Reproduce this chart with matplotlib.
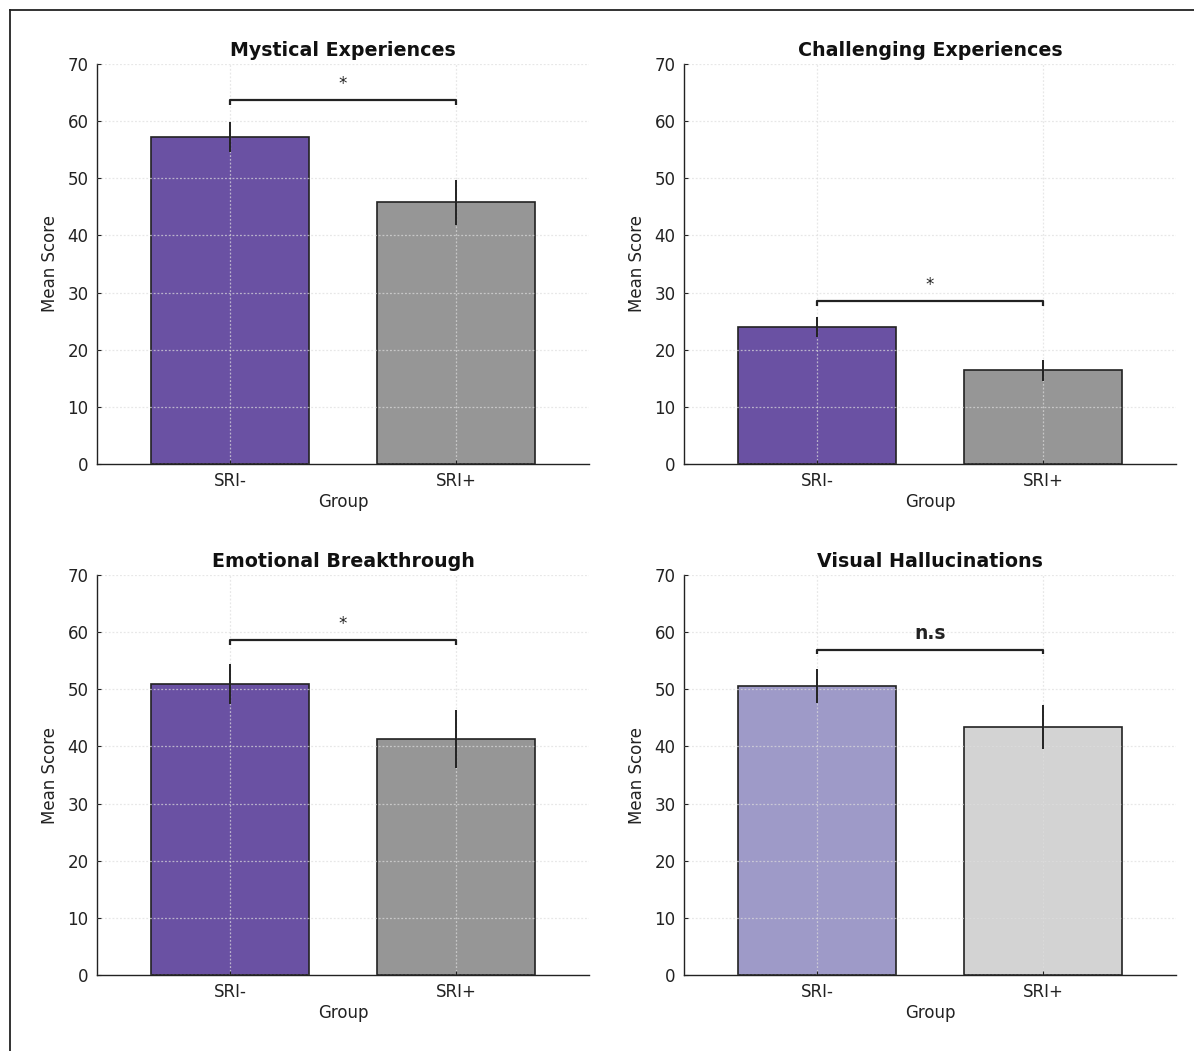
import matplotlib
matplotlib.use("Agg")
import matplotlib.pyplot as plt
from matplotlib.lines import Line2D

groups = ["SRI-", "SRI+"]
titles = ["Mystical Experiences", "Challenging Experiences",
          "Emotional Breakthrough", "Visual Hallucinations"]
means = [[57.2, 45.8], [24.0, 16.4], [50.9, 41.3], [50.6, 43.4]]
errors = [[2.6, 3.9], [1.8, 1.8], [3.5, 5.0], [3.0, 3.8]]
bracket_y = [63.7, 28.5, 58.6, 56.9]
sig_labels = ["*", "*", "*", "n.s"]
colors = [["#6a51a3", "#969696"], ["#6a51a3", "#969696"],
          ["#6a51a3", "#969696"], ["#9e9ac8", "#d3d3d3"]]

plt.rcParams['font.family'] = ['DejaVu Sans']
W, H = 1194, 1051
fig = plt.figure(figsize=(W / 100, H / 100), dpi=100)

# axes pixel boxes: left, right, top, bottom
boxes = [(97, 589, 64, 464), (684, 1176, 64, 464),
         (97, 589, 575, 975), (684, 1176, 575, 975)]

for i, (l, r, t, b) in enumerate(boxes):
    ax = fig.add_axes([l / W, 1 - b / H, (r - l) / W, (b - t) / H])
    x = [0, 1]
    ax.bar(x, means[i], width=0.7, color=colors[i], edgecolor="#222222",
           linewidth=1.2, zorder=1)
    ax.errorbar(x, means[i], yerr=errors[i], fmt="none", ecolor="#222222",
                elinewidth=1.4, capsize=0, zorder=3)
    ax.set_xlim(-0.59, 1.59)
    ax.set_ylim(0, 70)
    ax.set_yticks(range(0, 71, 10))
    ax.set_xticks(x)
    ax.set_xticklabels(groups)
    ax.tick_params(direction="in", length=3, labelsize=12, colors="#222222",
                   labelcolor="#222222", pad=6)
    ax.grid(True, linestyle=(0, (1.5, 1.5)), color="#dddddd", linewidth=0.9,
            alpha=0.7, zorder=2)
    ax.set_axisbelow(False)
    for s in ["top", "right"]:
        ax.spines[s].set_visible(False)
    for s in ["left", "bottom"]:
        ax.spines[s].set_color("#222222")
        ax.spines[s].set_linewidth(1.0)
    ax.set_title(titles[i], fontsize=13.7, fontweight="bold", pad=6,
                 color="#111111")
    ax.set_ylabel("Mean Score", fontsize=12, color="#222222", labelpad=6)
    ax.set_xlabel("Group", fontsize=12, color="#222222", labelpad=2)
    # significance bracket
    by = bracket_y[i]
    ax.plot([0, 0, 1, 1], [by - 0.8, by, by, by - 0.8], color="#222222",
            linewidth=1.6, zorder=4, solid_capstyle="butt")
    if sig_labels[i] == "*":
        ax.text(0.5, by + 1.3, "*", ha="center", va="bottom", fontsize=12,
                color="#222222")
    else:
        ax.text(0.5, by + 1.2, sig_labels[i], ha="center", va="bottom",
                fontsize=13.5, fontweight="bold", color="#222222")

# partial figure border (top and left)
fig.add_artist(Line2D([10 / W, 1], [1 - 10 / H, 1 - 10 / H],
                      transform=fig.transFigure, color="#222222", linewidth=1.3))
fig.add_artist(Line2D([10 / W, 10 / W], [0, 1 - 10 / H],
                      transform=fig.transFigure, color="#222222", linewidth=1.3))

fig.savefig("out.png", dpi=100, facecolor="white")
